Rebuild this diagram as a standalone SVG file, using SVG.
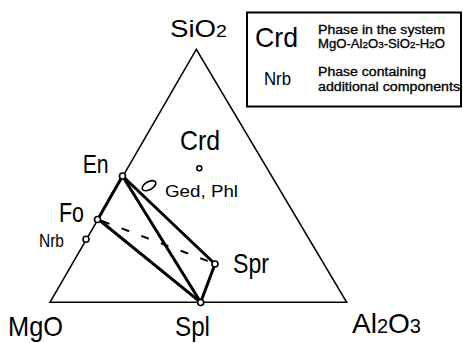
<svg xmlns="http://www.w3.org/2000/svg" width="463" height="343" viewBox="0 0 463 343">
  <style>
    text { font-family: "Liberation Sans", Arial, sans-serif; fill: #000; }
    .frame { fill: none; stroke: #000; stroke-width: 1.5; stroke-linejoin: miter; }
    .tie { stroke: #000; stroke-width: 3; stroke-linecap: round; fill: none; }
    .dash { stroke: #000; stroke-width: 2; stroke-dasharray: 8 13; fill: none; }
    .pt { fill: #fff; stroke: #000; stroke-width: 1.6; }
    .big { font-size: 28px; }
    .lg { font-size: 12px; stroke: #000; stroke-width: 0.3; }
  </style>
  <rect width="463" height="343" fill="#fff"/>

  <g id="frame">
    <polygon class="frame" points="196.3,49.3 50,302.3 346.7,302.3"/>
  </g>

  <g id="connectors">
    <line class="tie" x1="122.5" y1="176" x2="98" y2="219"/>
    <line class="tie" x1="122.5" y1="176" x2="215" y2="264"/>
    <line class="tie" x1="122.5" y1="176" x2="200.7" y2="302.3"/>
    <line class="tie" x1="98" y1="219" x2="200.7" y2="302.3"/>
    <line class="tie" x1="215" y1="264" x2="200.7" y2="302.3"/>
    <line class="dash" x1="102" y1="221" x2="213" y2="263"/>
  </g>

  <g id="SiO2">
    <text x="170" y="37" font-size="24" textLength="57" lengthAdjust="spacingAndGlyphs">SiO<tspan font-size="17">2</tspan></text>
  </g>
  <g id="MgO">
    <text x="8" y="336" class="big" textLength="55" lengthAdjust="spacingAndGlyphs">MgO</text>
  </g>
  <g id="Al2O3">
    <text x="352" y="333" class="big" textLength="69" lengthAdjust="spacingAndGlyphs">Al<tspan font-size="20">2</tspan>O<tspan font-size="20">3</tspan></text>
  </g>

  <g id="En">
    <circle class="pt" cx="122.5" cy="176" r="3"/>
    <text x="82.7" y="173" font-size="25" textLength="26" lengthAdjust="spacingAndGlyphs">En</text>
  </g>
  <g id="Fo">
    <circle class="pt" cx="97.5" cy="219.5" r="3"/>
    <text x="59" y="222" class="big" textLength="25" lengthAdjust="spacingAndGlyphs">Fo</text>
  </g>
  <g id="Nrb">
    <circle class="pt" cx="86" cy="239.3" r="3"/>
    <text x="39" y="246.5" font-size="19" textLength="25" lengthAdjust="spacingAndGlyphs">Nrb</text>
  </g>
  <g id="Spl">
    <circle class="pt" cx="200.7" cy="302.5" r="3"/>
    <text x="175" y="336" class="big" textLength="35" lengthAdjust="spacingAndGlyphs">Spl</text>
  </g>
  <g id="Spr">
    <circle class="pt" cx="215" cy="264" r="3"/>
    <text x="233" y="273" class="big" textLength="36" lengthAdjust="spacingAndGlyphs">Spr</text>
  </g>
  <g id="Crd">
    <circle class="pt" cx="199.3" cy="168.3" r="2.5"/>
    <text x="180" y="150" class="big" textLength="40" lengthAdjust="spacingAndGlyphs">Crd</text>
  </g>
  <g id="GedPhl">
    <ellipse cx="149" cy="185.7" rx="7.5" ry="4" transform="rotate(-30 149 185.7)" fill="none" stroke="#000" stroke-width="1.6"/>
    <text x="165" y="196.5" font-size="17" textLength="73" lengthAdjust="spacingAndGlyphs">Ged, Phl</text>
  </g>

  <g id="legend">
    <rect x="247" y="12.5" width="214" height="94" fill="#fff" stroke="#000" stroke-width="2"/>
    <text x="255" y="46.5" class="big" textLength="43" lengthAdjust="spacingAndGlyphs">Crd</text>
    <text x="318" y="34" class="lg" textLength="127" lengthAdjust="spacingAndGlyphs">Phase in the system</text>
    <text x="318" y="48" class="lg" textLength="127" lengthAdjust="spacingAndGlyphs">MgO-Al<tspan font-size="9">2</tspan>O<tspan font-size="9">3</tspan>-SiO<tspan font-size="9">2</tspan>-H<tspan font-size="9">2</tspan>O</text>
    <text x="264" y="85" font-size="19" textLength="27" lengthAdjust="spacingAndGlyphs">Nrb</text>
    <text x="318" y="75.5" class="lg" textLength="108" lengthAdjust="spacingAndGlyphs">Phase containing</text>
    <text x="318" y="90.5" class="lg" textLength="142" lengthAdjust="spacingAndGlyphs">additional components</text>
  </g>
</svg>
